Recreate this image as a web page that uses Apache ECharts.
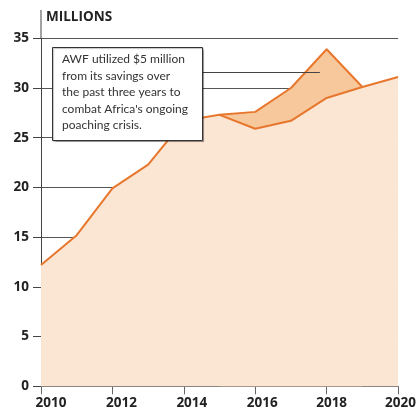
<!DOCTYPE html>
<html><head><meta charset="utf-8">
<script src="https://cdn.jsdelivr.net/npm/echarts@6/dist/echarts.min.js"></script>
<style>html,body{margin:0;padding:0;background:#fff}#c{width:419px;height:411px}</style>
</head><body><div id="c"></div>
<script>
var years = [2010, 2011, 2012, 2013, 2014, 2015, 2016, 2017, 2018, 2019, 2020];
var spent = [12.2, 15.2, 19.9, 22.3, 26.7, 27.3, 25.9, 26.7, 29.0, 30.1, 31.1];
var withSavingsYears = [2015, 2016, 2017, 2018, 2019];
var withSavings = [27.3, 27.6, 30.0, 33.9, 30.1];
var yTicks = [0, 5, 10, 15, 20, 25, 30, 35];
var xTicks = [2010, 2012, 2014, 2016, 2018, 2020];
var unitLabel = 'MILLIONS';
var noteLines = ['AWF utilized $5 million', 'from its savings over', 'the past three years to', "combat Africa's ongoing", 'poaching crisis.'];
var pointer = [[2014.5, 31.58], [2017.81, 31.58]];

var BFONT = '"Open Sans"';
var NFONT = 'Lato';
var LINE = '#e8772e';
var xShift = [10, 9, 8, 7, 5, 2.5];
var rich = {};
xTicks.forEach(function (t, i) {
  rich['o' + i] = {fontFamily: BFONT, fontWeight: 'bold', fontSize: 13.5, color: '#222', padding: [0, 0, 0, xShift[i] * 2]};
});

var chart = echarts.init(document.getElementById('c'), null, {renderer: 'canvas'});
chart.setOption({
  animation: false,
  grid: {left: 41, right: 18.5, top: 38.3, bottom: 24.7, containLabel: false},
  xAxis: {
    type: 'value', min: xTicks[0], max: xTicks[xTicks.length - 1], interval: 2,
    axisLine: {show: true, lineStyle: {color: '#666', width: 1}},
    axisTick: {show: true, length: 8, lineStyle: {color: '#666'}},
    splitLine: {show: false},
    axisLabel: {
      margin: 10,
      formatter: function (v) { var i = xTicks.indexOf(v); return '{o' + i + '|' + v + '}'; },
      rich: rich
    }
  },
  yAxis: {
    type: 'value', min: yTicks[0], max: yTicks[yTicks.length - 1], interval: 5,
    axisLine: {show: true, lineStyle: {color: '#444', width: 1}},
    axisTick: {show: true, length: 8, lineStyle: {color: '#444'}},
    splitLine: {show: true, lineStyle: {color: '#555', width: 1}},
    axisLabel: {margin: 12, fontFamily: BFONT, fontWeight: 'bold', fontSize: 13.5, color: '#222'}
  },
  series: [
    {
      type: 'line', name: 'with savings',
      data: withSavingsYears.map(function (y, i) { return [y, withSavings[i]]; }),
      symbol: 'none', lineStyle: {color: LINE, width: 2},
      areaStyle: {color: '#f7c89b', opacity: 1},
      markLine: {
        silent: true, symbol: 'none', label: {show: false},
        lineStyle: {color: '#444', width: 1, type: 'solid'},
        data: [[{coord: pointer[0]}, {coord: pointer[1]}]]
      }
    },
    {
      type: 'line', name: 'spent',
      data: years.map(function (y, i) { return [y, spent[i]]; }),
      symbol: 'none', lineStyle: {color: LINE, width: 2},
      areaStyle: {color: '#fbe5d3', opacity: 1}
    }
  ],
  graphic: [
    {type: 'line', shape: {x1: 41, y1: 10, x2: 41, y2: 38}, style: {stroke: '#444', lineWidth: 1}, z: 10},
    {type: 'text', left: 46, top: 10, style: {text: unitLabel, fontFamily: BFONT, fontWeight: 'bold', fontSize: 13.5, fill: '#222'}, z: 10},
    {type: 'rect', shape: {x: 52.5, y: 47.5, width: 150, height: 93}, style: {fill: '#fff', stroke: '#333', lineWidth: 1, shadowColor: 'rgba(0,0,0,0.25)', shadowOffsetX: 1, shadowOffsetY: 1, shadowBlur: 1}, z: 20},
    {type: 'text', left: 62, top: 51, style: {text: noteLines.join('\n'), fontFamily: NFONT, fontSize: 12, lineHeight: 16.5, fill: '#333'}, z: 21}
  ]
});
</script></body></html>
